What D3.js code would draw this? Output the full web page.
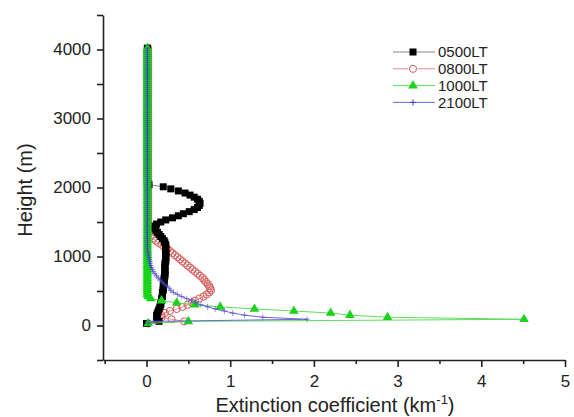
<!DOCTYPE html>
<html><head><meta charset="utf-8">
<script src="https://cdn.jsdelivr.net/npm/d3@7"></script>
<style>body{margin:0;background:#fff;} text{font-family:"Liberation Sans",Arial,sans-serif;fill:#222;}</style>
</head><body>
<svg id="c" width="574" height="417"></svg>
<script>
// sampling heights (m)
const heights = d3.range(30, 4021, 30);
const seriesNames = ["0500LT", "0800LT", "1000LT", "2100LT"];
const xTicks = [0, 1, 2, 3, 4, 5];
const yTicks = [0, 1000, 2000, 3000, 4000];

// extinction coefficient (km^-1) at each height
const s0500 = [
 0.00,0.15,0.13,0.12,0.12,0.13,0.14,0.15,0.16,0.17,
 0.17,0.18,0.18,0.19,0.19,0.19,0.20,0.20,0.20,0.21,
 0.21,0.21,0.21,0.22,0.22,0.22,0.22,0.22,0.22,0.22,
 0.23,0.23,0.23,0.23,0.23,0.23,0.23,0.23,0.23,0.22,
 0.21,0.19,0.17,0.15,0.13,0.11,0.10,0.10,0.12,0.17,
 0.23,0.31,0.38,0.44,0.51,0.57,0.61,0.63,0.64,0.63,
 0.61,0.57,0.52,0.46,0.38,0.29,0.20,0.03,0.01,0.01,
 0.01,0.01,0.01,0.01,0.01,0.01,0.01,0.01,0.01,0.01,
 0.01,0.01,0.01,0.01,0.01,0.01,0.01,0.01,0.01,0.01,
 0.01,0.01,0.01,0.01,0.01,0.01,0.01,0.01,0.01,0.01,
 0.01,0.01,0.01,0.01,0.01,0.01,0.01,0.01,0.01,0.01,
 0.01,0.01,0.01,0.01,0.01,0.01,0.01,0.01,0.01,0.01,
 0.01,0.01,0.01,0.01,0.01,0.01,0.01,0.01,0.01,0.01,
 0.01,0.01,0.01,0.01];
const s0800 = [
 0.02,0.45,0.30,0.18,0.18,0.22,0.28,0.36,0.43,0.49,
 0.54,0.58,0.63,0.68,0.72,0.75,0.77,0.76,0.75,0.73,
 0.71,0.69,0.67,0.64,0.61,0.58,0.55,0.52,0.49,0.46,
 0.43,0.40,0.37,0.34,0.31,0.28,0.25,0.21,0.18,0.14,
 0.11,0.08,0.05,0.02,0.02,0.02,0.02,0.02,0.02,0.02,
 0.02,0.02,0.02,0.02,0.02,0.02,0.02,0.02,0.02,0.02,
 0.02,0.02,0.02,0.02,0.02,0.02,0.02,0.02,0.02,0.02,
 0.02,0.02,0.02,0.02,0.02,0.02,0.02,0.02,0.02,0.02,
 0.02,0.02,0.02,0.02,0.02,0.02,0.02,0.02,0.02,0.02,
 0.02,0.02,0.02,0.02,0.02,0.02,0.02,0.02,0.02,0.02,
 0.02,0.02,0.02,0.02,0.02,0.02,0.02,0.02,0.02,0.02,
 0.02,0.02,0.02,0.02,0.02,0.02,0.02,0.02,0.02,0.02,
 0.02,0.02,0.02,0.02,0.02,0.02,0.02,0.02,0.02,0.02,
 0.02,0.02,0.02,0.02];
const s1000 = [
 0.02,0.50,4.51,2.88,2.43,2.20,1.76,1.29,0.88,0.58,
 0.36,0.18,0.05,0.02,0.01,0.01,0.01,0.01,0.01,0.01,
 0.01,0.01,0.01,0.01,0.01,0.01,0.01,0.01,0.01,0.01,
 0.01,0.01,0.01,0.01,0.01,0.01,0.01,0.01,0.01,0.01,
 0.01,0.01,0.01,0.01,0.01,0.01,0.01,0.01,0.01,0.01,
 0.01,0.01,0.01,0.01,0.01,0.01,0.01,0.01,0.01,0.01,
 0.01,0.01,0.01,0.01,0.01,0.01,0.01,0.01,0.01,0.01,
 0.01,0.01,0.01,0.01,0.01,0.01,0.01,0.01,0.01,0.01,
 0.01,0.01,0.01,0.01,0.01,0.01,0.01,0.01,0.01,0.01,
 0.01,0.01,0.01,0.01,0.01,0.01,0.01,0.01,0.01,0.01,
 0.01,0.01,0.01,0.01,0.01,0.01,0.01,0.01,0.01,0.01,
 0.01,0.01,0.01,0.01,0.01,0.01,0.01,0.01,0.01,0.01,
 0.01,0.01,0.01,0.01,0.01,0.01,0.01,0.01,0.01,0.01,
 0.01,0.01,0.01,0.01];
const s2100 = [
 0.02,0.08,1.92,1.39,1.17,1.03,0.93,0.82,0.73,0.65,
 0.59,0.54,0.48,0.42,0.37,0.32,0.29,0.27,0.24,0.21,
 0.19,0.16,0.14,0.12,0.10,0.08,0.07,0.06,0.05,0.04,
 0.04,0.03,0.03,0.02,0.02,0.01,0.01,0.01,0.01,0.01,
 0.01,0.01,0.01,0.01,0.01,0.01,0.01,0.01,0.01,0.01,
 0.01,0.01,0.01,0.01,0.01,0.01,0.01,0.01,0.01,0.01,
 0.01,0.01,0.01,0.01,0.01,0.01,0.01,0.01,0.01,0.01,
 0.01,0.01,0.01,0.01,0.01,0.01,0.01,0.01,0.01,0.01,
 0.01,0.01,0.01,0.01,0.01,0.01,0.01,0.01,0.01,0.01,
 0.01,0.01,0.01,0.01,0.01,0.01,0.01,0.01,0.01,0.01,
 0.01,0.01,0.01,0.01,0.01,0.01,0.01,0.01,0.01,0.01,
 0.01,0.01,0.01,0.01,0.01,0.01,0.01,0.01,0.01,0.01,
 0.01,0.01,0.01,0.01,0.01,0.01,0.01,0.01,0.01,0.01,
 0.01,0.01,0.01,0.01];

const svg = d3.select("#c");
const x = d3.scaleLinear().domain([-0.52, 5]).range([103, 565]);
const y = d3.scaleLinear().domain([-500, 4500]).range([360, 15]);

const styles = {
  "0500LT": {vals: s0500, line: "#8a8a8a", sym: "square", fill: "#000", stroke: "none"},
  "0800LT": {vals: s0800, line: "#e08a8a", sym: "circle", fill: "none", stroke: "#d45a5a"},
  "1000LT": {vals: s1000, line: "#5fdc5f", sym: "triangle", fill: "#19d419", stroke: "none"},
  "2100LT": {vals: s2100, line: "#6a6ad0", sym: "plus", fill: "none", stroke: "#3c3cc4"}
};

function marker(sel, sym, st) {
  if (sym === "square") sel.append("rect").attr("x", -3.5).attr("y", -3.5).attr("width", 7).attr("height", 7).attr("fill", st.fill);
  else if (sym === "circle") sel.append("circle").attr("r", 3.6).attr("fill", st.fill).attr("stroke", st.stroke).attr("stroke-width", 1);
  else if (sym === "triangle") sel.append("path").attr("d", d3.symbol(d3.symbolTriangle, 40)()).attr("fill", st.fill);
  else sel.append("path").attr("d", "M-3,0H3M0,-3V3").attr("stroke", st.stroke).attr("stroke-width", 1).attr("fill", "none");
}

// draw order: red, black, green, blue
const order = ["0800LT", "0500LT", "1000LT", "2100LT"];
order.forEach(name => {
  const st = styles[name];
  const pts = heights.map((h, i) => [st.vals[i], h]).filter(d => d[0] !== undefined);
  const g = svg.append("g");
  g.append("path").datum(pts)
    .attr("d", d3.line().x(d => x(d[0])).y(d => y(d[1])))
    .attr("fill", "none").attr("stroke", st.line).attr("stroke-width", 1);
  g.selectAll("g.m").data(pts).enter().append("g")
    .attr("transform", d => `translate(${x(d[0])},${y(d[1])})`)
    .attr("opacity", name === "2100LT" ? 0.55 : 1)
    .each(function() { marker(d3.select(this), st.sym, st); });
});

// axes
const yAxis = d3.axisLeft(y).tickValues(d3.range(-500, 4501, 500))
  .tickFormat(d => yTicks.includes(d) ? d : "").tickSize(6).tickSizeOuter(0).tickPadding(6);
const gy = svg.append("g").attr("transform", "translate(103,0)").call(yAxis);
const xAxis = d3.axisBottom(x).tickValues([-0.5].concat(d3.range(0, 5.01, 0.5)))
  .tickFormat(d => xTicks.includes(d) ? d : "").tickSize(7).tickSizeOuter(0).tickPadding(8);
const gx = svg.append("g").attr("transform", "translate(0,360)").call(xAxis);
gx.selectAll(".tick line").attr("y2", d => xTicks.includes(d) ? 7 : 4);
[gx, gy].forEach(g => {
  g.select(".domain").attr("stroke", "#222").attr("stroke-width", 1.6);
  g.selectAll(".tick line").attr("stroke", "#222").attr("stroke-width", 1.6);
  g.selectAll(".tick text").attr("font-size", 17).attr("fill", "#222")
    .style("font-family", '"Liberation Sans",Arial,sans-serif');
});

// titles
const xt = svg.append("text").attr("x", 335).attr("y", 412).attr("text-anchor", "middle").attr("font-size", 20);
xt.append("tspan").text("Extinction coefficient (km");
xt.append("tspan").attr("font-size", 13).attr("dy", -8).text("-1");
xt.append("tspan").attr("dy", 8).text(")");
svg.append("text").attr("transform", "translate(32,190) rotate(-90)")
  .attr("text-anchor", "middle").attr("font-size", 20).text("Height (m)");

// legend
seriesNames.forEach((name, i) => {
  const st = styles[name];
  const ly = 52 + i * 16.8;
  const g = svg.append("g");
  g.append("line").attr("x1", 393).attr("x2", 435).attr("y1", ly).attr("y2", ly)
    .attr("stroke", st.line).attr("stroke-width", 1);
  const m = g.append("g").attr("transform", `translate(413,${ly})`);
  if (st.sym === "circle") m.append("rect").attr("x", -5).attr("y", -5).attr("width", 10).attr("height", 10).attr("fill", "#fff");
  marker(m, st.sym, st);
  g.append("text").attr("x", 438).attr("y", ly).attr("dy", "0.36em").attr("font-size", 15).text(name);
});
</script>
</body></html>
